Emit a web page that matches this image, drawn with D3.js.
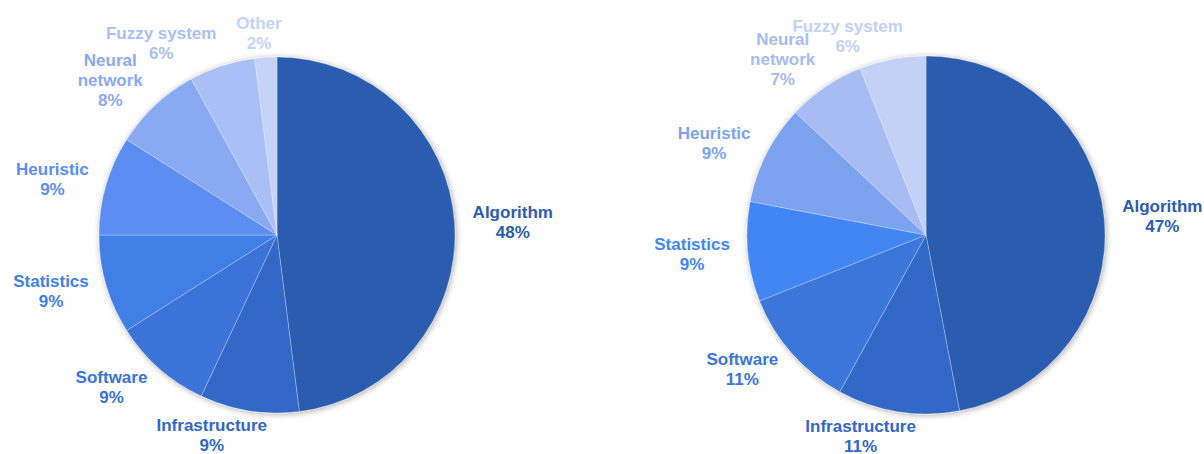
<!DOCTYPE html>
<html>
<head>
<meta charset="utf-8">
<script src="https://cdn.jsdelivr.net/npm/d3@7/dist/d3.min.js"></script>
<style>
  html, body { margin: 0; padding: 0; background: #ffffff; }
  svg { display: block; }
  text { font-family: "Liberation Sans", Arial, sans-serif; font-weight: bold; font-size: 17px; }
</style>
</head>
<body>
<svg id="chart" width="1204" height="454"></svg>
<script>
// Left pie: topic shares (%)
const categoriesLeft = ["Algorithm", "Infrastructure", "Software", "Statistics", "Heuristic", "Neural network", "Fuzzy system", "Other"];
const sharesLeft = [48, 9, 9, 9, 9, 8, 6, 2];
const coloursLeft = ["#2c5cb0", "#3367c7", "#3a73d9", "#3f80e6", "#5b8ef2", "#89a9f2", "#a9bff6", "#c6d3f8"];

// Right pie: topic shares (%)
const categoriesRight = ["Algorithm", "Infrastructure", "Software", "Statistics", "Heuristic", "Neural network", "Fuzzy system"];
const sharesRight = [47, 11, 11, 9, 9, 7, 6];
const coloursRight = ["#2c5cb0", "#3367c7", "#3a76db", "#4286f3", "#7ca3ef", "#a6bcf3", "#c4d1f7"];

// Names that break onto two lines in their label
const wrappedNames = new Set(["Neural network"]);

const svg = d3.select("#chart");
const defs = svg.append("defs");
const shadow = defs.append("filter")
  .attr("id", "pieShadow")
  .attr("x", "-20%").attr("y", "-20%")
  .attr("width", "140%").attr("height", "140%");
shadow.append("feGaussianBlur").attr("in", "SourceAlpha").attr("stdDeviation", 3).attr("result", "blur");
shadow.append("feOffset").attr("in", "blur").attr("dx", 1).attr("dy", 1).attr("result", "off");
shadow.append("feComponentTransfer").attr("in", "off").attr("result", "soft")
  .append("feFuncA").attr("type", "linear").attr("slope", 0.35);
const merge = shadow.append("feMerge");
merge.append("feMergeNode").attr("in", "soft");
merge.append("feMergeNode").attr("in", "SourceGraphic");

function drawPie(cx, cy, radius, categories, shares, colours) {
  const rows = categories.map((c, i) => ({ name: c, value: shares[i], colour: colours[i] }));
  const pie = d3.pie().sort(null).value(d => d.value);
  const arcs = pie(rows);
  const arc = d3.arc().innerRadius(0).outerRadius(radius);

  const g = svg.append("g").attr("transform", `translate(${cx},${cy})`);

  g.append("g")
    .attr("filter", "url(#pieShadow)")
    .selectAll("path")
    .data(arcs)
    .join("path")
    .attr("d", arc)
    .attr("fill", d => d.data.colour)
    .attr("stroke", "rgba(255,255,255,0.28)")
    .attr("stroke-width", 1);

  const lineHeight = 20;
  const capHeight = 12.2;

  const labels = g.append("g")
    .selectAll("text")
    .data(arcs)
    .join("text")
    .attr("text-anchor", "middle")
    .attr("fill", d => d.data.colour);

  labels.each(function (d) {
    const t = d3.select(this);
    const lines = wrappedNames.has(d.data.name) ? d.data.name.split(" ") : [d.data.name];
    lines.push(d3.format(".0f")(d.data.value) + "%");
    lines.forEach((ln, i) => {
      t.append("tspan").attr("x", 0).attr("dy", i === 0 ? 0 : lineHeight).text(ln);
    });
    // measure block
    let w = 0;
    t.selectAll("tspan").each(function () { w = Math.max(w, this.getComputedTextLength()); });
    const h = (lines.length - 1) * lineHeight + capHeight;

    // anchor just outside the rim along the slice's mid-angle, block pushed outward
    const a = (d.startAngle + d.endAngle) / 2;
    const s = Math.sin(a), c = Math.cos(a);
    const ax = (radius + 18) * s;
    const ay = -(radius + 8) * c;
    const kx = Math.max(-1, Math.min(1, s * 4));
    const ky = -c;
    const bx = ax + kx * w / 2;
    const by = ay + ky * h / 2;
    const top = by - h / 2;
    t.attr("transform", `translate(${bx},${top + capHeight})`);
  });
}

drawPie(277, 235, 178, categoriesLeft, sharesLeft, coloursLeft);
drawPie(926, 235, 179, categoriesRight, sharesRight, coloursRight);
</script>
</body>
</html>
